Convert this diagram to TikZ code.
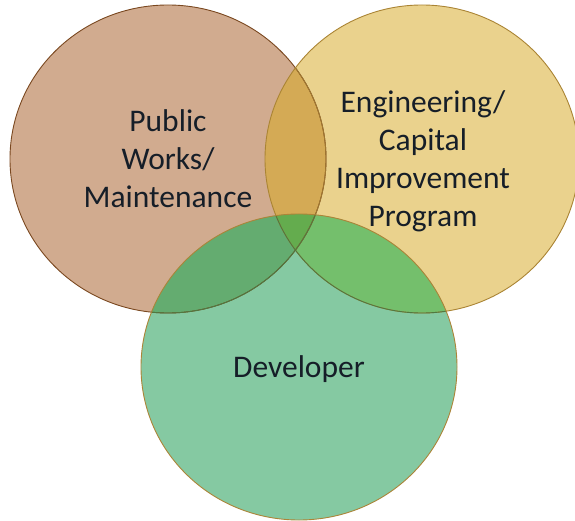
\documentclass[tikz,border=0pt]{standalone}
\usepackage{fontspec}
\setmainfont{Carlito}
\usepackage{tikz}
\usetikzlibrary{positioning}

\definecolor{pwfill}{RGB}{209,171,143}
\definecolor{pwline}{RGB}{122,72,32}
\definecolor{engfill}{RGB}{234,210,141}
\definecolor{engline}{RGB}{170,132,52}
\definecolor{devfill}{RGB}{133,201,162}
\definecolor{devline}{RGB}{172,132,56}
\definecolor{pwengfill}{RGB}{212,170,85}
\definecolor{pwdevfill}{RGB}{100,172,112}
\definecolor{engdevfill}{RGB}{116,191,108}
\definecolor{allfill}{RGB}{100,172,78}
\definecolor{lensline}{RGB}{80,120,64}
\definecolor{txt}{RGB}{22,30,40}

\begin{document}
\begin{tikzpicture}[x=1pt,y=-1pt,
    pwr/.style={x radius=158,y radius=154},
    engr/.style={x radius=157,y radius=154},
    devr/.style={x radius=158,y radius=153},
    lbl/.style={align=center,text=txt,inner sep=0pt,
      font=\fontsize{31.5}{38}\selectfont}]
  \useasboundingbox (0,0) rectangle (575,521);
  \clip (0,0) rectangle (575,521);

  \coordinate (pwc) at (168,159);
  \coordinate (engc) at (422,159);
  \coordinate (devc) at (299,367);

  % plain fills
  \fill[pwfill] (pwc) ellipse [pwr];
  \fill[engfill] (engc) ellipse [engr];
  \fill[devfill] (devc) ellipse [devr];

  % overlaps
  \begin{scope}
    \clip (pwc) ellipse [pwr];
    \fill[pwengfill] (engc) ellipse [engr];
    \fill[pwdevfill] (devc) ellipse [devr];
  \end{scope}
  \begin{scope}
    \clip (engc) ellipse [engr];
    \fill[engdevfill] (devc) ellipse [devr];
    \clip (pwc) ellipse [pwr];
    \fill[allfill] (devc) ellipse [devr];
  \end{scope}

  % outlines
  \draw[pwline,line width=0.9pt] (pwc) ellipse [pwr];
  \begin{scope}
    \clip (engc) ellipse [engr];
    \draw[engline!80!pwline,line width=0.9pt] (pwc) ellipse [pwr];
  \end{scope}
  \draw[engline,line width=0.9pt] (engc) ellipse [engr];
  \begin{scope}
    \clip (devc) ellipse [devr];
    \draw[lensline,line width=0.9pt] (pwc) ellipse [pwr];
    \draw[lensline,line width=0.9pt] (engc) ellipse [engr];
  \end{scope}
  \draw[devline,line width=0.9pt] (devc) ellipse [devr];

  % labels
  \node[lbl,anchor=base] (pw) at (168,208) {Public\\Works/\\Maintenance};
  \node[lbl,anchor=base] (eng) at (423,227) {Engineering/\\Capital\\Improvement\\Program};
  \node[lbl,anchor=base] (dev) at (299,377) {Developer};
\end{tikzpicture}
\end{document}
